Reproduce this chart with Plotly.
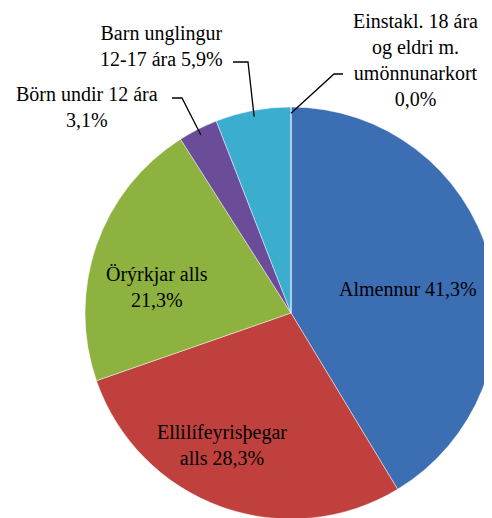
import math
import plotly.graph_objects as go

# ---- data ----
labels = ["Almennur", "Ellilífeyrisþegar alls", "Örýrkjar alls", "Börn undir 12 ára",
          "Barn unglingur 12-17 ára", "Einstakl. 18 ára og eldri m. umönnunarkort"]
label_text = ["Almennur", "Ellilífeyrisþegar<br>alls", "Örýrkjar alls<br>",
              "Börn undir 12 ára<br>", "Barn unglingur<br>12-17 ára",
              "Einstakl. 18 ára<br>og eldri m.<br>umönnunarkort<br>"]
values = [41.3, 28.3, 21.3, 3.1, 5.9, 0.0]
colors = ["#3C6EB4", "#BF403C", "#8DB23F", "#6A4C98", "#3BAED0", "#F79646"]

W, H = 492, 518
OFF = 8  # page body margin in the browser
FONT = "'Times New Roman', 'Liberation Serif', serif"

# pie geometry in viewport pixels
PCX, PCY, PR = 291, 313, 206
dom_x = [(PCX - OFF - PR) / W, min(1.0, (PCX - OFF + PR) / W)]
dom_y = [1 - (PCY - OFF + PR) / H, 1 - (PCY - OFF - PR) / H]
cx = (dom_x[0] + dom_x[1]) / 2 * W + OFF
cy = (1 - (dom_y[0] + dom_y[1]) / 2) * H + OFF
r = min((dom_x[1] - dom_x[0]) * W, (dom_y[1] - dom_y[0]) * H) / 2

fig = go.Figure(go.Pie(
    labels=labels, values=values, sort=False, direction="clockwise", rotation=0,
    marker=dict(colors=colors, line=dict(color="rgba(255,255,255,0.45)", width=1)),
    textinfo="none", hoverinfo="label+percent", showlegend=False,
    domain=dict(x=dom_x, y=dom_y),
))

total = sum(values)


def fmt(v):
    return f"{v:.1f}".replace(".", ",") + "%"


def edge_point(i, k=0.97):
    cum = sum(values[:i]) + values[i] / 2
    th = 2 * math.pi * cum / total
    return cx + k * r * math.sin(th), cy - k * r * math.cos(th)


def px(x, y):
    return (x - OFF) / W, 1 - (y - OFF) / H


# label placements (viewport pixel centers) and elbow of leader lines
placements = {
    0: dict(pos=(408, 289), sep=" ", elbow=None),
    1: dict(pos=(222, 445), sep=" ", elbow=None),
    2: dict(pos=(157, 287), sep="", elbow=None),
    3: dict(pos=(87, 107), sep="", elbow=((172, 98), (182, 98))),
    4: dict(pos=(161, 46), sep=" ", elbow=((233, 62), (248, 62))),
    5: dict(pos=(415, 60), sep="", elbow=((343, 74), (334, 74))),
}

annotations = []
shapes = []
for i, p in placements.items():
    txt = label_text[i] + p["sep"] + fmt(values[i])
    x, y = px(*p["pos"])
    annotations.append(dict(x=x, y=y, xref="paper", yref="paper", text=txt,
                            xanchor="center", yanchor="middle",
                            showarrow=False, align="center",
                            font=dict(family=FONT, size=20, color="#000000")))
    if p["elbow"]:
        (ax0, ay0), (ax1, ay1) = p["elbow"]
        ex, ey = edge_point(i)
        pts = [px(ax0, ay0), px(ax1, ay1), px(ex, ey)]
        path = "M {} {} L {} {} L {} {}".format(pts[0][0], pts[0][1], pts[1][0], pts[1][1],
                                               pts[2][0], pts[2][1])
        shapes.append(dict(type="path", xref="paper", yref="paper", path=path,
                           line=dict(color="#000000", width=1.3)))

fig.update_layout(
    width=W, height=H, margin=dict(l=0, r=0, t=0, b=0),
    paper_bgcolor="#FFFFFF", plot_bgcolor="#FFFFFF",
    annotations=annotations, shapes=shapes,
    font=dict(family=FONT, size=20, color="#000000"),
)

fig.write_html("out.html")
